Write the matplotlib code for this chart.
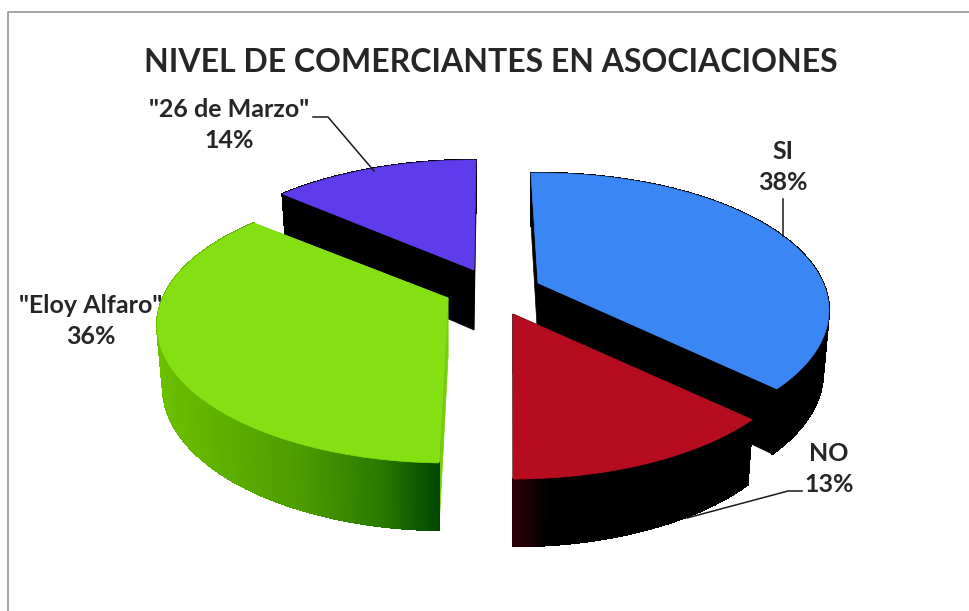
import numpy as np
import matplotlib
matplotlib.use("Agg")
import matplotlib.pyplot as plt
from matplotlib.colors import to_rgb

labels = ["SI", "NO", '"Eloy Alfaro"', '"26 de Marzo"']
values = [38, 13, 36, 14]
title = "NIVEL DE COMERCIANTES EN ASOCIACIONES"

# look of the fake 3d pie, in pixels
start_angle = 90.8
angle_nudge = [0.9, 1.0, -0.5, -1.3]  # perspective leans the slices a little
centers = [(538, 283), (513, 314), (448, 298), (474, 270)]
top_colors = ["#3B86F5", "#B50D1F", "#84E012", "#5E3BEB"]
radial_colors = ["#000000", "#1a0003", "#78CC10", "#000000"]
# colour of the outer wall along screen x
wall_stops = [
    [(0, "#000000"), (969, "#000000")],
    [(516, "#2a0006"), (548, "#000000"), (969, "#000000")],
    [(157, "#6cc000"), (300, "#4c9c00"), (380, "#2a7a00"), (440, "#004600")],
    [(0, "#000000"), (969, "#000000")],
]
draw_order = [3, 0, 2, 1]
R, S, K, H = 285, 132, 0.2, 60

plt.rcParams["font.family"] = ["Lato", "DejaVu Sans"]


def project(cx, cy, ang):
    # disc point to screen, with a bit of perspective
    u, v = np.cos(ang), np.sin(ang)
    w = 1 + K * v
    return cx + R * u / w, cy - S * v / w, v


def bottom(cx, sx, sy, v):
    return cx + (sx - cx) * 0.98, sy + H * (1 - 0.12 * v)


def wall_color(x, stops):
    xs = [s[0] for s in stops]
    rgb = np.array([to_rgb(s[1]) for s in stops])
    return tuple(np.interp(x, xs, rgb[:, i]) for i in range(3))


fig = plt.figure(figsize=(9.69, 6.11), dpi=100)
ax = fig.add_axes([0, 0, 1, 1])
ax.set_xlim(0, 969)
ax.set_ylim(611, 0)
ax.axis("off")

fracs = np.array(values) / sum(values)
ends = start_angle - np.cumsum(fracs) * 360
starts = np.r_[start_angle, ends[:-1]]

for i in draw_order:
    cx, cy = centers[i]
    th = np.radians(np.linspace(starts[i], ends[i], 240) + angle_nudge[i])
    sx, sy, v = project(cx, cy, th)
    bx, by = bottom(cx, sx, sy, v)
    cbx, cby = bottom(cx, cx, cy, 0.0)

    # cut faces
    for j in (0, -1):
        ax.fill([cx, sx[j], bx[j], cbx], [cy, sy[j], by[j], cby],
                color=radial_colors[i], lw=0.5)

    # outer wall, small quads for the gradient
    for j in range(len(th) - 1):
        c = wall_color(sx[j], wall_stops[i])
        ax.fill([sx[j], sx[j + 1], bx[j + 1], bx[j]],
                [sy[j], sy[j + 1], by[j + 1], by[j]], color=c, lw=1.0,
                antialiased=False)

    ax.fill(np.r_[cx, sx], np.r_[cy, sy], color=top_colors[i], lw=0.5)

# chart frame, only left and top show
ax.plot([8.5, 8.5, 969], [611, 11.5, 11.5], color="#A6A6A6", lw=1.4)

# leader lines
line_c = "#1a1a1a"
ax.plot([783, 783], [199, 236], color=line_c, lw=1.1)
ax.plot([802, 788, 687], [491, 491, 518], color=line_c, lw=1.1)
ax.plot([313, 328, 374], [117, 117, 171], color=line_c, lw=1.1)

txt_c = "#262626"
ax.text(491, 62, title, ha="center", va="center", fontsize=23,
        fontweight="bold", color=txt_c)
label_pos = [(783, 167), (829, 469), (91, 321), (229, 125)]
for name, val, (x, y) in zip(labels, values, label_pos):
    ax.text(x, y, f"{name}\n{val}%", ha="center", va="center", fontsize=18,
            fontweight="bold", color=txt_c, linespacing=1.42)

fig.savefig("out.png", dpi=100)
